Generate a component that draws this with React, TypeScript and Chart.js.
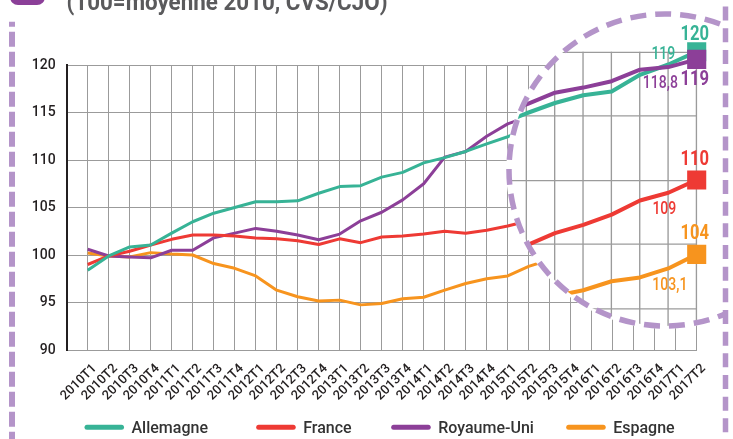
import React, { useEffect, useRef } from 'react';
import { Chart, registerables } from 'chart.js';

Chart.register(...registerables);

const quarters = [
  '2010T1', '2010T2', '2010T3', '2010T4', '2011T1', '2011T2', '2011T3', '2011T4',
  '2012T1', '2012T2', '2012T3', '2012T4', '2013T1', '2013T2', '2013T3', '2013T4',
  '2014T1', '2014T2', '2014T3', '2014T4', '2015T1', '2015T2', '2015T3', '2015T4',
  '2016T1', '2016T2', '2016T3', '2016T4', '2017T1', '2017T2',
];

const allemagne = [
  98.4, 99.9, 100.85, 101.05, 102.3, 103.5, 104.4, 105.0, 105.6, 105.6,
  105.7, 106.5, 107.2, 107.3, 108.2, 108.7, 109.7, 110.25, 110.9, 111.7,
  112.45, 113.3, 114.3, 115.2, 116.0, 116.6, 116.9, 118.2, 119.0, 120.0,
];
const france = [
  99.0, 99.9, 100.4, 101.05, 101.65, 102.1, 102.1, 102.0, 101.8, 101.7,
  101.5, 101.1, 101.7, 101.3, 101.9, 102.0, 102.2, 102.5, 102.3, 102.6,
  103.05, 103.6, 104.3, 104.9, 105.85, 106.5, 107.3, 108.4, 109.0, 110.0,
];
const royaumeUni = [
  100.6, 99.9, 99.8, 99.7, 100.5, 100.5, 101.8, 102.3, 102.8, 102.5,
  102.1, 101.6, 102.2, 103.6, 104.5, 105.8, 107.5, 110.3, 110.9, 112.5,
  113.8, 114.6, 115.3, 115.9, 116.8, 117.2, 117.7, 118.6, 118.8, 119.4,
];
const espagne = [
  100.2, 99.9, 99.8, 100.25, 100.1, 100.0, 99.1, 98.6, 97.8, 96.3,
  95.6, 95.15, 95.25, 94.75, 94.9, 95.4, 95.55, 96.3, 97.0, 97.5,
  97.8, 98.8, 99.5, 100.3, 100.95, 101.4, 102.1, 102.4, 103.1, 104.2,
];

const seriesNames = ['Allemagne', 'France', 'Royaume-Uni', 'Espagne'];
const seriesValues = [allemagne, france, royaumeUni, espagne];
const lastLabels = ['120', '110', '119', '104'];
const prevLabels = ['119', '109', '118,8', '103,1'];
const titleText = '(100=moyenne 2010, CVS/CJO)';
const yMin = 90;
const yMax = 120;
const yStep = 5;
const zoomCenterValue = 116;

const COLORS = ['#37b396', '#ee3a34', '#8c3f98', '#f7941e'];
const LAVENDER = '#b494c9';
const GRID = '#9b9b9b';
const TEXT = '#231f20';
const FONT = 'Roboto, "Noto Sans", sans-serif';

// loupe geometry (style)
const CX = 665;
const CY = 170;
const R = 156;
const K = 1.35;

function drawText(ctx: CanvasRenderingContext2D, text: string, x: number, y: number, size: number, weight: number, color: string, sx: number, align: CanvasTextAlign = 'center') {
  ctx.save();
  ctx.translate(x, y + size * 0.355);
  ctx.scale(sx, 1);
  ctx.font = `${weight} ${size}px ${FONT}`;
  ctx.fillStyle = color;
  ctx.textAlign = align;
  ctx.textBaseline = 'alphabetic';
  ctx.fillText(text, 0, 0);
  ctx.restore();
}

const decorPlugin = {
  id: 'decor',
  afterDraw(chart: any) {
    const ctx: CanvasRenderingContext2D = chart.ctx;
    const xs = chart.scales.x;
    const ys = chart.scales.y;
    const last = quarters.length - 1;

    // ---------- loupe ----------
    ctx.save();
    ctx.beginPath();
    ctx.rect(0, 0, 725, 439);
    ctx.clip();

    ctx.beginPath();
    ctx.arc(CX, CY, R + 2.8, 0, Math.PI * 2);
    ctx.fillStyle = '#ffffff';
    ctx.fill();

    const mx = xs.getPixelForValue(last);
    const my = ys.getPixelForValue(zoomCenterValue);

    ctx.save();
    ctx.beginPath();
    ctx.arc(CX, CY, R, 0, Math.PI * 2);
    ctx.clip();
    ctx.translate(mx, my);
    ctx.scale(K, K);
    ctx.translate(-mx, -my);
    xs.drawGrid(chart.chartArea);
    ys.drawGrid(chart.chartArea);
    const order = [3, 1, 0, 2];
    order.forEach((i) => chart.getDatasetMeta(i).controller.draw());
    ctx.restore();

    ctx.beginPath();
    ctx.arc(CX, CY, R, 0, Math.PI * 2);
    ctx.strokeStyle = LAVENDER;
    ctx.lineWidth = 5.5;
    ctx.setLineDash([16, 9]);
    ctx.stroke();
    ctx.setLineDash([]);

    const toLoupe = (i: number, v: number) => {
      const px = xs.getPixelForValue(i);
      const py = ys.getPixelForValue(v);
      return { x: mx + K * (px - mx), y: my + K * (py - my) };
    };
    const bigDy = [-19, -22.5, 18.5, -22.5];
    const smallOff = [[-5, -11.5], [-4, 15], [-8, 14.5], [1.5, 15]];
    seriesValues.forEach((vals, s) => {
      const pLast = toLoupe(last, vals[last]);
      drawText(ctx, lastLabels[s], pLast.x - 2, pLast.y + bigDy[s], 20, 700, COLORS[s], 0.83);
      const pPrev = toLoupe(last - 1, vals[last - 1]);
      drawText(ctx, prevLabels[s], pPrev.x + smallOff[s][0], pPrev.y + smallOff[s][1], 18, 500, COLORS[s], 0.78);
    });
    ctx.restore();

    // ---------- frame ----------
    ctx.save();
    ctx.strokeStyle = LAVENDER;
    ctx.lineWidth = 6;
    ctx.setLineDash([15, 5]);
    ctx.lineDashOffset = 10;
    ctx.beginPath();
    ctx.moveTo(12, 21.7);
    ctx.lineTo(12, 439);
    ctx.stroke();
    ctx.lineWidth = 5.5;
    ctx.setLineDash([14, 7.67]);
    ctx.lineDashOffset = 0;
    ctx.beginPath();
    ctx.moveTo(725.5, 6.6 - 21.67);
    ctx.lineTo(725.5, 439);
    ctx.stroke();
    ctx.setLineDash([]);

    // badge
    ctx.fillStyle = '#8b3f98';
    ctx.beginPath();
    (ctx as any).roundRect(10, -25, 35, 30, 8);
    ctx.fill();

    // title (cut at top)
    ctx.font = `700 24px ${FONT}`;
    const w = ctx.measureText(titleText).width;
    ctx.translate(66.5, 9.5);
    ctx.scale(321 / w, 1);
    ctx.fillStyle = '#5a5a5c';
    ctx.textAlign = 'left';
    ctx.textBaseline = 'alphabetic';
    ctx.fillText(titleText, 0, 0);
    ctx.restore();

    // ---------- legend ----------
    const swatchX = [85, 256.7, 391.7, 566.7];
    const ly = 427.3;
    seriesNames.forEach((name, s) => {
      ctx.save();
      ctx.strokeStyle = COLORS[s];
      ctx.lineWidth = 5;
      ctx.lineCap = 'round';
      ctx.beginPath();
      ctx.moveTo(swatchX[s] + 2, ly);
      ctx.lineTo(swatchX[s] + 36.5, ly);
      ctx.stroke();
      ctx.restore();
      drawText(ctx, name, swatchX[s] + 46.5, ly, 16, 500, '#333333', 1, 'left');
    });
  },
};

export default function App() {
  const ref = useRef<HTMLCanvasElement>(null);
  useEffect(() => {
    const canvas = ref.current;
    if (!canvas) return;
    const last = quarters.length - 1;
    const chart = new Chart(canvas, {
      type: 'line',
      data: {
        datasets: seriesValues.map((vals, s) => ({
          label: seriesNames[s],
          data: vals.map((v, i) => ({ x: i, y: v })),
          borderColor: COLORS[s],
          backgroundColor: COLORS[s],
          borderWidth: 3,
          tension: 0,
          fill: false,
          borderJoinStyle: 'round' as const,
          pointStyle: 'rect' as const,
          pointRadius: (c: any) => (c.dataIndex === last ? 10 : 0),
          pointBorderWidth: 0,
          pointHoverRadius: 0,
        })),
      },
      options: {
        animation: false,
        responsive: true,
        maintainAspectRatio: false,
        events: [],
        layout: { padding: { left: 0, top: 65, right: 36.3, bottom: 0 } },
        plugins: {
          legend: { display: false },
          tooltip: { enabled: false },
          title: { display: false },
        },
        scales: {
          x: {
            type: 'linear',
            min: -1,
            max: last,
            afterFit: (s: any) => { s.height = 89; },
            ticks: {
              stepSize: 1,
              autoSkip: false,
              maxRotation: 45,
              minRotation: 45,
              padding: 11,
              labelOffset: 7,
              color: TEXT,
              font: { family: FONT, size: 13, weight: 500 },
              callback: (v: any) => (v >= 0 && v <= last ? quarters[v] : ''),
            },
            grid: { color: GRID, lineWidth: 1, drawTicks: false },
            border: { display: true, color: GRID, width: 1 },
          },
          y: {
            min: yMin,
            max: yMax,
            afterFit: (s: any) => { s.width = 66.7; },
            ticks: {
              stepSize: yStep,
              padding: 11,
              color: TEXT,
              font: { family: FONT, size: 14, weight: 500 },
            },
            grid: { color: GRID, lineWidth: 1, drawTicks: false },
            border: { display: true, color: TEXT, width: 2 },
          },
        },
      },
      plugins: [decorPlugin],
    } as any);
    return () => chart.destroy();
  }, []);
  return (
    <div style={{ position: 'fixed', left: 0, top: 0, width: 733, height: 439, background: '#ffffff' }}>
      <canvas ref={ref} />
    </div>
  );
}
